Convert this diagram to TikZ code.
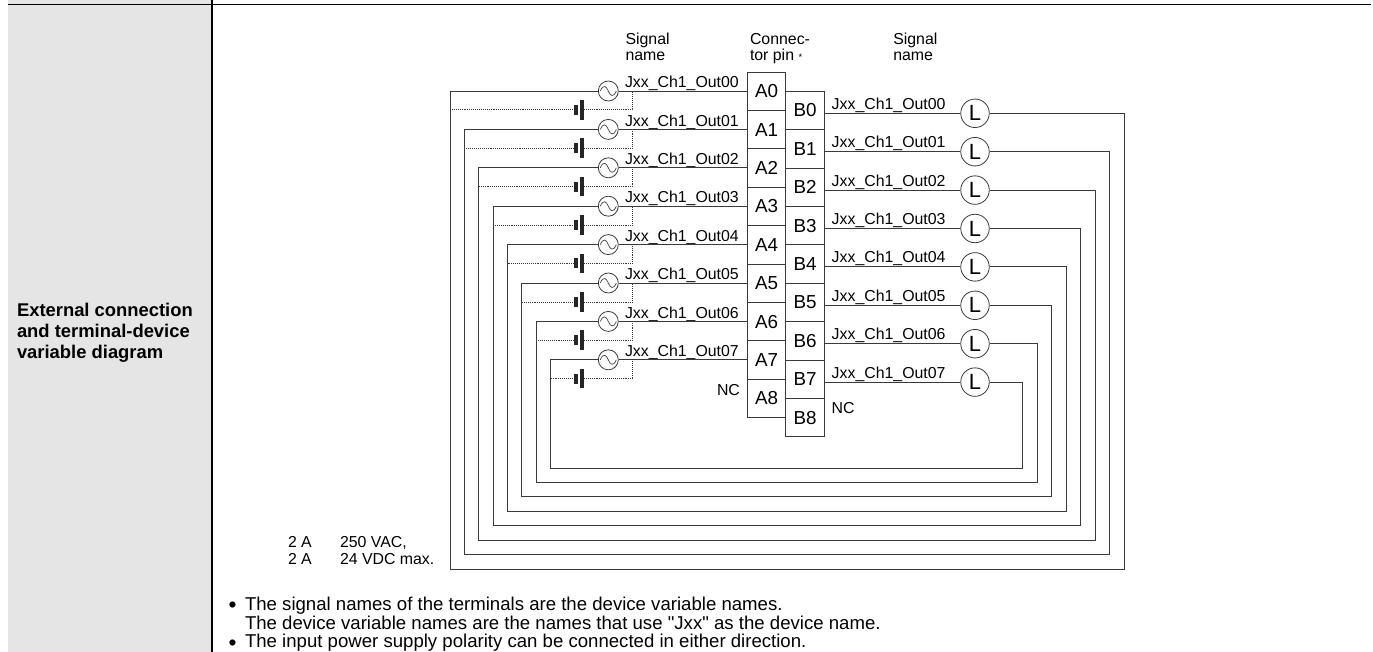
\documentclass[tikz,border=0pt]{standalone}
\usepackage{fontspec}
\setmainfont{Liberation Sans}
\newfontfamily\plainfont{Liberation Sans}
\definecolor{panel}{HTML}{E5E5E5}
\definecolor{wire}{HTML}{3A3A3A}
\tikzset{
  txt/.style={anchor=base west,inner sep=0pt,outer sep=0pt,font=\fontsize{11.9}{12.5}\selectfont,align=left},
  notetxt/.style={txt,font=\fontsize{13.95}{15}\selectfont},
  bullettxt/.style={txt,font=\fontsize{17}{18}\selectfont},
  pinbox/.style={draw=wire,line width=.7pt,rectangle,minimum width=38.5*.75pt,minimum height=38.4*.75pt,inner sep=0pt,font=\fontsize{14.1}{16}\selectfont},
  acsrc/.style={draw=wire,line width=.6pt,circle,minimum size=20*.75pt,inner sep=0pt},
  load/.style={draw=wire,line width=.6pt,circle,minimum size=28.5*.75pt,inner sep=0pt,font=\fontsize{16.5}{18}\selectfont},
  wireline/.style={draw=wire,line width=.7pt},
  dotline/.style={draw=wire,line width=.45pt,densely dotted},
  plate/.style={draw=black!85,line cap=butt,line width=3pt}
}
\begin{document}
\begin{tikzpicture}[x=.75pt,y=-.75pt]
\useasboundingbox (0,0) rectangle (1373,652);
\fill[panel] (8,0) rectangle (212,652);
\coordinate (hl) at (8,4.5);
\coordinate (hr) at (1371,4.5);
\coordinate (vt) at (212,0);
\coordinate (vb) at (212,652);
\draw[black,line width=1pt] (hl) -- (hr);
\draw[black,line width=1.6pt] (vt) -- (vb);
% left heading
\node[txt,font=\fontsize{13.8}{15.5}\bfseries\selectfont] (head) at (17,358) {External connection\\and terminal-device\\variable diagram};
% column heads
\node[txt] (h1) at (625.5,60.7) {Signal\\name};
\node[txt] (h2) at (750,60.7) {Connec-\\tor pin {\fontsize{7}{8}\selectfont *}};
\node[txt] (h3) at (893.3,60.7) {Signal\\name};
% pins
\foreach \i in {0,...,8}{
  \node[pinbox] (A\i) at (766.6,91.2+38.4*\i) {A\i};
  \node[pinbox] (B\i) at (805.1,110.5+38.4*\i) {B\i};
}
\node[txt] (ncl) at (717,395) {NC};
\node[txt] (ncr) at (831.7,413) {NC};
% channels
\foreach \i in {0,...,7}{
  \node[acsrc] (ac\i) at (608.3,91+38.4*\i) {};
  \node[load] (L\i) at (975,113.3+38.4*\i) {L};
  \node[txt] (sl\i) at (625,87.8+38.4*\i) {Jxx\_Ch1\_Out0\i};
  \node[txt] (sr\i) at (831.7,109.3+38.4*\i) {Jxx\_Ch1\_Out0\i};
  \draw[draw=wire,line width=.5pt] ([shift={(-8,0)}]ac\i.center) .. controls ([shift={(-5,-7)}]ac\i.center) and ([shift={(-2,-5)}]ac\i.center) .. (ac\i.center) .. controls ([shift={(2,5)}]ac\i.center) and ([shift={(5,7)}]ac\i.center) .. ([shift={(8,0)}]ac\i.center);
  \coordinate (cl\i) at (450+14.38*\i,91+38.4*\i);
  \coordinate (cb\i) at (450+14.38*\i,569-14.43*\i);
  \coordinate (cr\i) at (1124-14.47*\i,569-14.43*\i);
  \coordinate (ct\i) at (1124-14.47*\i,113.3+38.4*\i);
  \coordinate (jt\i) at (632.7,91+38.4*\i);
  \coordinate (jb\i) at (632.7,109.8+38.4*\i);
  \coordinate (dl\i) at (450+14.38*\i,109.8+38.4*\i);
  \coordinate (bs\i) at (576,109.8+38.4*\i);
  \coordinate (bl\i) at (582,109.8+38.4*\i);
  \draw[wireline] (ac\i.east) -- (ac\i.east -| A\i.west);
  \draw[wireline] (L\i.west) -- (L\i.west -| B\i.east);
  \draw[wireline] (ac\i.west) -- (cl\i) -- (cb\i) -- (cr\i) -- (ct\i) -- (L\i.east);
  \draw[dotline] (dl\i) -- (bs\i);
  \draw[dotline] (bl\i) -- (jb\i) -- (jt\i);
  \draw[plate] ([yshift=-5*.75pt]bs\i) -- ([yshift=5*.75pt]bs\i);
  \draw[plate] ([yshift=-9.8*.75pt]bl\i) -- ([yshift=9.8*.75pt]bl\i);
}
% ratings
\node[txt] (r1) at (288,547) {2 A};
\node[txt] (r2) at (340,547) {250 VAC,};
\node[txt] (r3) at (288,564) {2 A};
\node[txt] (r4) at (340,564) {24 VDC max.};
% notes
\node[bullettxt] (b1) at (228.5,612.5) {•};
\node[notetxt] (n1) at (245,610) {The signal names of the terminals are the device variable names.};
\node[notetxt] (n2) at (245,629.5) {The device variable names are the names that use {\plainfont"}Jxx{\plainfont"} as the device name.};
\node[bullettxt] (b3) at (228.5,650) {•};
\node[notetxt] (n3) at (245,647.5) {The input power supply polarity can be connected in either direction.};
\end{tikzpicture}
\end{document}
